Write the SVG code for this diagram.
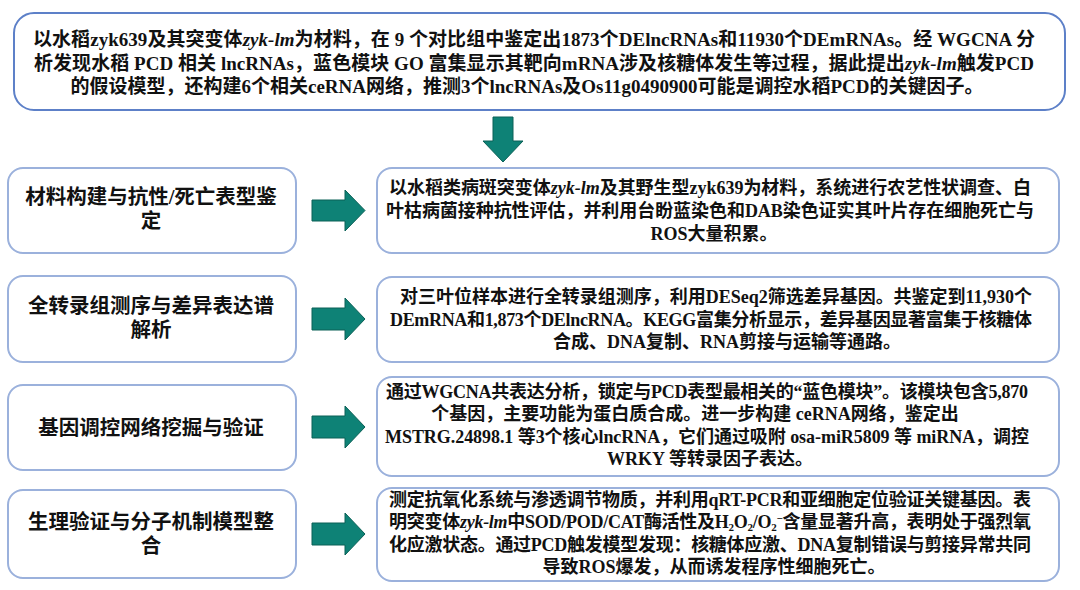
<svg xmlns="http://www.w3.org/2000/svg" width="1080" height="590" viewBox="0 0 1080 590">
<defs>
<style>
.bx{fill:#fff;stroke:#9bb1dc;stroke-width:2}
.top{fill:#fff;stroke:#5d80c8;stroke-width:2}
.t{font-family:"Liberation Serif","Noto Sans CJK SC",serif;font-weight:bold;fill:#111;text-anchor:middle}
.s{font-size:18px}
.l{font-size:20.5px}
.m{font-size:19px}
.i{font-style:italic}
.ar{fill:#0e8276;stroke:#0b6157;stroke-width:1}
</style>
</defs>
<rect width="1080" height="590" fill="#fff"/>
<g id="summary">
<rect class="top" x="14" y="13" width="1051" height="97" rx="20"/>
<text class="t m" x="534" y="46" textLength="1002" lengthAdjust="spacing">以水稻zyk639及其突变体<tspan class="i">zyk-lm</tspan>为材料，在 9 个对比组中鉴定出1873个DElncRNAs和11930个DEmRNAs。经 WGCNA 分</text>
<text class="t m" x="534" y="70" textLength="1000" lengthAdjust="spacing">析发现水稻 PCD 相关 lncRNAs，蓝色模块 GO 富集显示其靶向mRNA涉及核糖体发生等过程，据此提出<tspan class="i">zyk-lm</tspan>触发PCD</text>
<text class="t m" x="527" y="93">的假设模型，还构建6个相关ceRNA网络，推测3个lncRNAs及Os11g0490900可能是调控水稻PCD的关键因子。</text>
</g>
<g id="step1">
<rect class="bx" x="8" y="168" width="288" height="85" rx="15"/>
<text class="t l" x="151" y="204">材料构建与抗性/死亡表型鉴</text>
<text class="t l" x="151" y="228">定</text>
</g>
<g id="detail1">
<rect class="bx" x="377" y="168" width="682" height="85" rx="15"/>
<text class="t s" x="710" y="194" textLength="642" lengthAdjust="spacing">以水稻类病斑突变体<tspan class="i">zyk-lm</tspan>及其野生型zyk639为材料，系统进行农艺性状调查、白</text>
<text class="t s" x="710" y="217" textLength="648" lengthAdjust="spacing">叶枯病菌接种抗性评估，并利用台盼蓝染色和DAB染色证实其叶片存在细胞死亡与</text>
<text class="t s" x="714" y="240">ROS大量积累。</text>
</g>
<g id="step2">
<rect class="bx" x="8" y="276" width="288" height="86" rx="15"/>
<text class="t l" x="151" y="313">全转录组测序与差异表达谱</text>
<text class="t l" x="151" y="337">解析</text>
</g>
<g id="detail2">
<rect class="bx" x="377" y="277" width="682" height="85" rx="15"/>
<text class="t s" x="716" y="303" textLength="632" lengthAdjust="spacing">对三叶位样本进行全转录组测序，利用DESeq2筛选差异基因。共鉴定到11,930个</text>
<text class="t s" x="711" y="326" textLength="642" lengthAdjust="spacing">DEmRNA和1,873个DElncRNA。KEGG富集分析显示，差异基因显著富集于核糖体</text>
<text class="t s" x="727" y="348">合成、DNA复制、RNA剪接与运输等通路。</text>
</g>
<g id="step3">
<rect class="bx" x="8" y="385" width="288" height="85" rx="15"/>
<text class="t l" x="151" y="435">基因调控网络挖掘与验证</text>
</g>
<g id="detail3">
<rect class="bx" x="377" y="377" width="682" height="99" rx="15"/>
<text class="t s" x="707" y="398" textLength="642" lengthAdjust="spacing">通过WGCNA共表达分析，锁定与PCD表型最相关的“蓝色模块”。该模块包含5,870</text>
<text class="t s" x="695" y="420">个基因，主要功能为蛋白质合成。进一步构建 ceRNA网络，鉴定出</text>
<text class="t s" x="707" y="443" textLength="644" lengthAdjust="spacing">MSTRG.24898.1 等3个核心lncRNA，它们通过吸附 osa-miR5809 等 miRNA，调控</text>
<text class="t s" x="710" y="465">WRKY 等转录因子表达。</text>
</g>
<g id="step4">
<rect class="bx" x="8" y="490" width="288" height="88" rx="15"/>
<text class="t l" x="151" y="529">生理验证与分子机制模型整</text>
<text class="t l" x="151" y="553">合</text>
</g>
<g id="detail4">
<rect class="bx" x="377" y="488" width="682" height="93" rx="15"/>
<text class="t s" x="710" y="506" textLength="642" lengthAdjust="spacing">测定抗氧化系统与渗透调节物质，并利用qRT-PCR和亚细胞定位验证关键基因。表</text>
<text class="t s" x="710" y="528" textLength="642" lengthAdjust="spacing">明突变体<tspan class="i">zyk-lm</tspan>中SOD/POD/CAT酶活性及H<tspan font-size="11" dy="3">2</tspan><tspan dy="-3">O</tspan><tspan font-size="11" dy="3">2</tspan><tspan dy="-3">/O</tspan><tspan font-size="11" dy="3">2</tspan><tspan font-size="11" dy="-9">−</tspan><tspan dy="6">含量显著升高，表明处于强烈氧</tspan></text>
<text class="t s" x="710" y="551" textLength="642" lengthAdjust="spacing">化应激状态。通过PCD触发模型发现：核糖体应激、DNA复制错误与剪接异常共同</text>
<text class="t s" x="714" y="573">导致ROS爆发，从而诱发程序性细胞死亡。</text>
</g>
<g id="connectors">
<polygon class="ar" points="493,117 513,117 513,141 523,141 503,162 483,141 493,141"/>
<polygon class="ar" points="312,200 345,200 345,190 365,210.5 345,231 345,221 312,221"/>
<polygon class="ar" points="312,308 345,308 345,298 365,319 345,340 345,330 312,330"/>
<polygon class="ar" points="312,416 345,416 345,406 365,427 345,448 345,438 312,438"/>
<polygon class="ar" points="312,523 345,523 345,513 365,534 345,555 345,545 312,545"/>
</g>
</svg>
